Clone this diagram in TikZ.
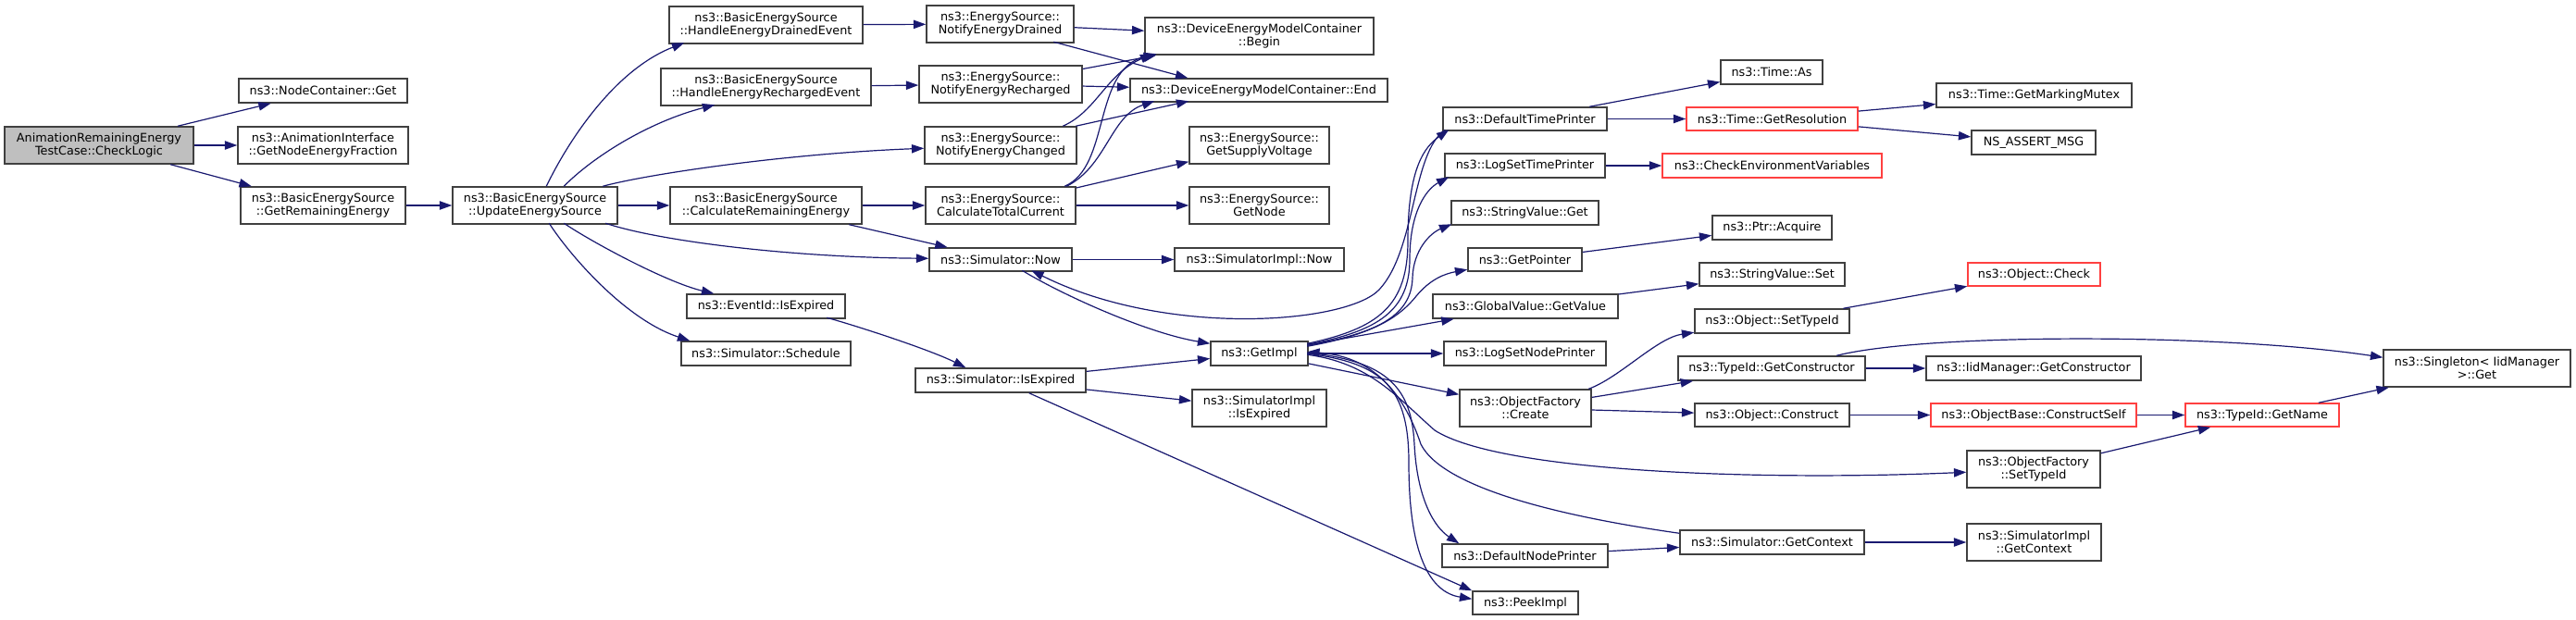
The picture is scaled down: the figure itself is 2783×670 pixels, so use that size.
\documentclass[tikz,border=0pt]{standalone}
\usepackage{fontspec}
\setmainfont{DejaVu Sans}
\usetikzlibrary{arrows.meta,calc}
\definecolor{edgecol}{RGB}{25,25,112}
\definecolor{boxcol}{RGB}{64,64,64}
\definecolor{redbox}{RGB}{255,64,64}
\definecolor{rootfill}{RGB}{191,191,191}
\newcommand\mknode[7][]{%
  \pgfmathsetmacro\mkcx{(#3+#5)/2}%
  \pgfmathsetmacro\mkcy{(#4+#6)/2}%
  \pgfmathsetmacro\mkw{(#5-#3)*0.75}%
  \pgfmathsetmacro\mkh{(#6-#4)*0.75}%
  \node[box,#1,minimum width=\mkw pt,minimum height=\mkh pt] (#2) at (\mkcx,\mkcy) {#7};}
\tikzset{
  box/.style={draw=boxcol,line width=1.1pt,fill=white,inner sep=0pt,align=center,
    font=\fontsize{9.6}{10.7}\selectfont},
  redn/.style={draw=redbox},
  rootn/.style={fill=rootfill},
  edge/.style={draw=edgecol,line width=0.9pt,-{Triangle[length=10pt,width=7pt]}}
}
\begin{document}
\begin{tikzpicture}[x=0.75pt,y=-0.75pt]
\useasboundingbox (0,0) rectangle (2783,670);
% nodes
\mknode[rootn]{cl}{5}{137}{209}{177}{AnimationRemainingEnergy\\TestCase::CheckLogic}
\mknode{ncg}{258}{85}{440}{111}{ns3::NodeContainer::Get}
\mknode{ani}{257}{137}{441}{177}{ns3::AnimationInterface\\::GetNodeEnergyFraction}
\mknode{gre}{260}{202}{438}{242}{ns3::BasicEnergySource\\::GetRemainingEnergy}
\mknode{ues}{489}{202}{667}{242}{ns3::BasicEnergySource\\::UpdateEnergySource}
\mknode{hde}{723}{7}{932}{47}{ns3::BasicEnergySource\\::HandleEnergyDrainedEvent}
\mknode{hre}{714}{74}{941}{114}{ns3::BasicEnergySource\\::HandleEnergyRechargedEvent}
\mknode{cre}{724}{202}{931}{242}{ns3::BasicEnergySource\\::CalculateRemainingEnergy}
\mknode{eid}{742}{318}{913}{344}{ns3::EventId::IsExpired}
\mknode{sch}{736}{369}{919}{395}{ns3::Simulator::Schedule}
\mknode{ned}{1001}{6}{1160}{46}{ns3::EnergySource::\\NotifyEnergyDrained}
\mknode{ner}{993}{71}{1169}{111}{ns3::EnergySource::\\NotifyEnergyRecharged}
\mknode{nec}{999}{137}{1163}{177}{ns3::EnergySource::\\NotifyEnergyChanged}
\mknode{ctc}{1000}{202}{1162}{242}{ns3::EnergySource::\\CalculateTotalCurrent}
\mknode{now}{1004}{268}{1158}{293}{ns3::Simulator::Now}
\mknode{sie}{989}{398}{1173}{424}{ns3::Simulator::IsExpired}
\mknode{beg}{1237}{19}{1484}{59}{ns3::DeviceEnergyModelContainer\\::Begin}
\mknode{dend}{1221}{85}{1499}{110}{ns3::DeviceEnergyModelContainer::End}
\mknode{gsv}{1285}{137}{1436}{177}{ns3::EnergySource::\\GetSupplyVoltage}
\mknode{gnd}{1285}{202}{1436}{242}{ns3::EnergySource::\\GetNode}
\mknode{sin}{1269}{268}{1452}{293}{ns3::SimulatorImpl::Now}
\mknode{gim}{1308}{369}{1413}{395}{ns3::GetImpl}
\mknode{sii}{1288}{421}{1433}{461}{ns3::SimulatorImpl\\::IsExpired}
\mknode{dtp}{1559}{116}{1736}{141}{ns3::DefaultTimePrinter}
\mknode{lst}{1561}{166}{1734}{192}{ns3::LogSetTimePrinter}
\mknode{svg}{1568}{217}{1727}{243}{ns3::StringValue::Get}
\mknode{gpt}{1586}{268}{1709}{293}{ns3::GetPointer}
\mknode{ggv}{1548}{318}{1748}{344}{ns3::GlobalValue::GetValue}
\mknode{lsn}{1560}{369}{1735}{395}{ns3::LogSetNodePrinter}
\mknode{ofc}{1577}{421}{1719}{461}{ns3::ObjectFactory\\::Create}
\mknode{dnp}{1558}{588}{1737}{613}{ns3::DefaultNodePrinter}
\mknode{pk}{1591}{639}{1705}{664}{ns3::PeekImpl}
\mknode{tas}{1859}{65}{1969}{91}{ns3::Time::As}
\mknode[redn]{tgr}{1822}{116}{2007}{141}{ns3::Time::GetResolution}
\mknode[redn]{cev}{1796}{166}{2033}{192}{ns3::CheckEnvironmentVariables}
\mknode{pac}{1850}{233}{1979}{259}{ns3::Ptr::Acquire}
\mknode{svs}{1836}{284}{1993}{309}{ns3::StringValue::Set}
\mknode{ost}{1831}{334}{1998}{360}{ns3::Object::SetTypeId}
\mknode{tgc}{1813}{385}{2015}{411}{ns3::TypeId::GetConstructor}
\mknode{ocn}{1831}{436}{1998}{461}{ns3::Object::Construct}
\mknode{ofs}{2125}{487}{2269}{527}{ns3::ObjectFactory\\::SetTypeId}
\mknode{sgc}{1815}{573}{2014}{599}{ns3::Simulator::GetContext}
\mknode{mtx}{2092}{90}{2303}{116}{ns3::Time::GetMarkingMutex}
\mknode{nsa}{2130}{141}{2264}{167}{NS\_ASSERT\_MSG}
\mknode[redn]{och}{2126}{284}{2269}{309}{ns3::Object::Check}
\mknode{igc}{2081}{385}{2313}{411}{ns3::IidManager::GetConstructor}
\mknode[redn]{ocs}{2086}{436}{2308}{461}{ns3::ObjectBase::ConstructSelf}
\mknode[redn]{tgn}{2361}{436}{2527}{461}{ns3::TypeId::GetName}
\mknode{sig}{2575}{378}{2777}{418}{ns3::Singleton< IidManager\\>::Get}
\mknode{sigc}{2125}{566}{2270}{606}{ns3::SimulatorImpl\\::GetContext}
% straight edges
\draw[edge] (cl) -- (ncg);
\draw[edge] (cl) -- (ani);
\draw[edge] (cl) -- (gre);
\draw[edge] (gre) -- (ues);
\draw[edge] (ues) -- (cre);
\draw[edge] (hde) -- (ned);
\draw[edge] (hre) -- (ner);
\draw[edge] (cre) -- (ctc);
\draw[edge] (cre) -- (now);
\draw[edge] (ctc) -- (gnd);
\draw[edge] (ctc) -- (gsv);
\draw[edge] (now) -- (sin);
\draw[edge] (ned) -- (beg);
\draw[edge] (ner) -- (beg);
\draw[edge] (ner) -- (dend);
\draw[edge] (sie) -- (gim);
\draw[edge] (sie) -- (sii);
\draw[edge] (sie) -- (pk.north west);
\draw[edge] (gim) -- (ggv);
\draw[edge] (gim) -- (lsn);
\draw[edge] (gim) -- (ofc);
\draw[edge] (dtp) -- (tas);
\draw[edge] (dtp) -- (tgr);
\draw[edge] (tgr) -- (mtx);
\draw[edge] (tgr) -- (nsa);
\draw[edge] (lst) -- (cev);
\draw[edge] (gpt) -- (pac);
\draw[edge] (ggv) -- (svs);
\draw[edge] (ost) -- (och);
\draw[edge] (ofc) -- (tgc);
\draw[edge] (ofc) -- (ocn);
\draw[edge] (tgc) -- (igc);
\draw[edge] (ocn) -- (ocs);
\draw[edge] (ocs) -- (tgn);
\draw[edge] (tgn) -- (sig);
\draw[edge] (ofs) -- (tgn);
\draw[edge] (dnp) -- (sgc);
\draw[edge] (sgc) -- (sigc);
% curved edges
\draw[edge] ($(ues.north west)+(102,0)$) .. controls (615,150) and (665,75) .. ($(hde.north west)+(17,40)$);
\draw[edge] ($(ues.north west)+(121,0)$) .. controls (640,170) and (700,132) .. ($(hre.north west)+(59,40)$);
\draw[edge] ($(ues.north west)+(163,0)$) .. controls (700,188) and (850,166) .. ($(nec.north west)+(0,24)$);
\draw[edge] ($(ues.north west)+(166,40)$) .. controls (710,260) and (850,278) .. ($(now.north west)+(0,12)$);
\draw[edge] ($(ues.north west)+(121,40)$) .. controls (640,262) and (720,305) .. ($(eid.north west)+(30,0)$);
\draw[edge] ($(ues.north west)+(105,40)$) .. controls (615,275) and (675,345) .. ($(sch.north west)+(10,0)$);
\draw[edge] ($(eid.north west)+(152,26)$) .. controls (925,352) and (1005,378) .. ($(sie.north west)+(55,0)$);
\draw[edge] ($(ned.north west)+(138,40)$) -- ($(dend.north west)+(63,0)$);
\draw[edge] ($(nec.north west)+(150,0)$) .. controls (1185,120) and (1195,80) .. ($(beg.north west)+(9,40)$);
\draw[edge] ($(nec.north west)+(164,0)$) -- ($(dend.north west)+(64,25)$);
\draw[edge] ($(ctc.north west)+(151,0)$) .. controls (1200,180) and (1180,75) .. ($(beg.north west)+(13,40)$);
\draw[edge] ($(ctc.north west)+(153,0)$) .. controls (1195,180) and (1200,125) .. ($(dend.north west)+(27,25)$);
\draw[edge] ($(now.north west)+(101,25)$) .. controls (1150,320) and (1240,360) .. ($(gim.north west)+(0,3)$);
\draw[edge] ($(dtp.north west)+(3,25)$) .. controls (1525,165) and (1530,270) .. (1490,313)
   .. controls (1455,350) and (1260,365) .. ($(now.north west)+(111,25)$);
\draw[edge] ($(gim.north west)+(105,3)$) .. controls (1490,355) and (1521,330) .. (1521,260)
   .. controls (1521,180) and (1540,158) .. ($(dtp.north west)+(7,25)$);
\draw[edge] ($(gim.north west)+(105,4)$) .. controls (1490,358) and (1523,335) .. (1523,280)
   .. controls (1523,230) and (1540,205) .. ($(lst.north west)+(5,26)$);
\draw[edge] ($(gim.north west)+(105,5)$) .. controls (1490,360) and (1525,340) .. (1526,300)
   .. controls (1527,270) and (1545,252) .. ($(svg.north west)+(1,26)$);
\draw[edge] ($(gim.north west)+(105,6)$) .. controls (1480,362) and (1510,345) .. (1530,320)
   .. controls (1545,302) and (1560,296) .. ($(gpt.north west)+(0,24)$);
\draw[edge] ($(gim.north west)+(105,13)$) .. controls (1500,390) and (1525,420) .. (1528,480)
   .. controls (1531,540) and (1550,570) .. ($(dnp.north west)+(19,0)$);
\draw[edge] ($(gim.north west)+(105,14)$) .. controls (1495,392) and (1522,420) .. (1522,500)
   .. controls (1522,600) and (1545,640) .. ($(pk.north west)+(0,9)$);
\draw[edge] ($(gim.north west)+(105,15)$) .. controls (1480,392) and (1510,430) .. (1550,465)
   .. controls (1620,510) and (1900,520) .. ($(ofs.north west)+(0,24)$);
\draw[edge] ($(sgc.north west)+(0,4)$) .. controls (1700,560) and (1560,530) .. (1535,480)
   .. controls (1515,420) and (1480,385) .. ($(gim.north west)+(105,12)$);
\draw[edge] ($(ofc.north west)+(140,0)$) .. controls (1750,408) and (1790,365) .. ($(ost.north west)+(0,26)$);
\draw[edge] ($(tgc.north west)+(172,0)$) .. controls (2080,360) and (2400,360) .. ($(sig.north west)+(0,9)$);
\end{tikzpicture}
\end{document}
